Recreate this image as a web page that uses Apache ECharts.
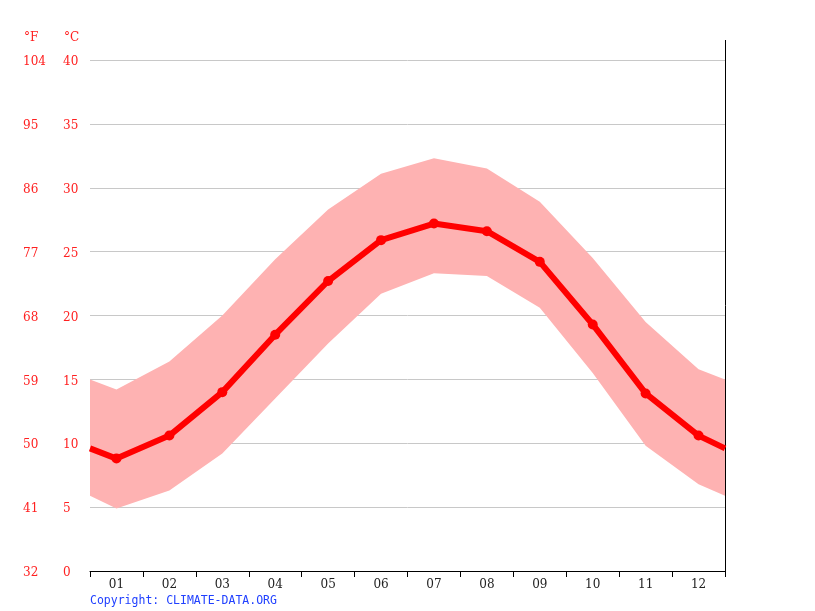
<!DOCTYPE html>
<html>
<head>
<meta charset="utf-8">
<script src="https://cdn.jsdelivr.net/npm/echarts@6/dist/echarts.min.js"></script>
<style>
  html, body { margin: 0; padding: 0; background: #fff; }
  #chart { width: 815px; height: 611px; }
</style>
</head>
<body>
<div id="chart"></div>
<script>
var months = ['01', '02', '03', '04', '05', '06', '07', '08', '09', '10', '11', '12'];
var tempMean = [8.8, 10.6, 14.0, 18.5, 22.7, 25.9, 27.2, 26.6, 24.2, 19.3, 13.9, 10.6];
var tempMax = [14.2, 16.4, 20.0, 24.4, 28.3, 31.1, 32.3, 31.5, 28.9, 24.5, 19.5, 15.8];
var tempMin = [4.9, 6.3, 9.2, 13.5, 17.8, 21.7, 23.3, 23.1, 20.6, 15.5, 9.8, 6.8];
// values where the curves meet the left / right edge of the plot
var edgeMean = 9.6, edgeMax = 15.0, edgeMin = 5.9;

var myChart = echarts.init(document.getElementById('chart'));

function withEdges(vals, edge) {
    var out = [[0, edge]];
    for (var i = 0; i < vals.length; i++) out.push([i + 0.5, vals[i]]);
    out.push([12, edge]);
    return out;
}

var lowData = withEdges(tempMin, edgeMin);
var hiData = withEdges(tempMax, edgeMax);
// one row per point: x, min, max
var bandData = hiData.map(function (p, i) { return [p[0], lowData[i][1], p[1]]; });
var meanData = withEdges(tempMean, edgeMean).map(function (p, i, arr) {
    var edge = (i === 0 || i === arr.length - 1);
    return { value: p, symbolSize: edge ? 0 : 10 };
});

function renderBand(params, api) {
    if (params.dataIndex !== 0) return;
    var top = [], bottom = [];
    for (var i = 0; i < bandData.length; i++) {
        top.push(api.coord([bandData[i][0], bandData[i][2]]));
        bottom.unshift(api.coord([bandData[i][0], bandData[i][1]]));
    }
    return {
        type: 'polygon',
        shape: { points: top.concat(bottom) },
        style: { fill: '#feb2b2', stroke: null }
    };
}

var redLabel = { color: '#ff2020', fontSize: 12, fontFamily: 'DejaVu Serif', verticalAlign: 'top', lineHeight: 4 };

myChart.setOption({
    animation: false,
    grid: { left: 90, right: 90, top: 60, bottom: 40 },
    xAxis: [
        {
            type: 'value', min: 0, max: 12, interval: 1,
            axisLine: { lineStyle: { color: '#000', width: 1 } },
            axisTick: { show: true, length: 6, lineStyle: { color: '#000' } },
            axisLabel: { show: false },
            splitLine: { show: false }
        },
        {
            type: 'category', data: months, boundaryGap: true, position: 'bottom',
            axisLine: { show: false }, axisTick: { show: false },
            axisLabel: { color: '#222', fontSize: 12, fontFamily: 'DejaVu Serif', margin: 8 },
            splitLine: { show: false }
        }
    ],
    yAxis: [
        {
            type: 'value', min: 0, max: 40, interval: 5,
            axisLine: { show: false }, axisTick: { show: false },
            axisLabel: Object.assign({ align: 'left', margin: 27 }, redLabel),
            splitLine: { lineStyle: { color: '#c8c8c8', width: 1 } }
        },
        {
            type: 'value', min: 0, max: 40, interval: 5, position: 'left',
            axisLine: { show: false }, axisTick: { show: false },
            axisLabel: Object.assign({
                align: 'left', margin: 67,
                formatter: function (v) { return Math.round(32 + v * 9 / 5); }
            }, redLabel),
            splitLine: { show: false }
        }
    ],
    graphic: [
        { type: 'text', left: 24, top: 32, style: { text: '°F', fill: '#ff2020', font: '12px DejaVu Serif' } },
        { type: 'text', left: 64, top: 32, style: { text: '°C', fill: '#ff2020', font: '12px DejaVu Serif' } },
        { type: 'line', shape: { x1: 725.5, y1: 40, x2: 725.5, y2: 571 }, style: { stroke: '#000', lineWidth: 1 } },
        { type: 'text', left: 90, top: 595, style: { text: 'Copyright: CLIMATE-DATA.ORG', fill: '#2040ff', font: '11.5px DejaVu Sans Mono' } }
    ],
    series: [
        {
            type: 'custom', data: bandData, renderItem: renderBand,
            encode: { x: 0, y: [1, 2] }, silent: true, z: 1
        },
        {
            type: 'line', data: meanData, symbol: 'circle', z: 3,
            lineStyle: { color: '#ff0000', width: 6 },
            itemStyle: { color: '#ff0000' }
        }
    ]
});

window.addEventListener('resize', function () { myChart.resize(); });
</script>
</body>
</html>
